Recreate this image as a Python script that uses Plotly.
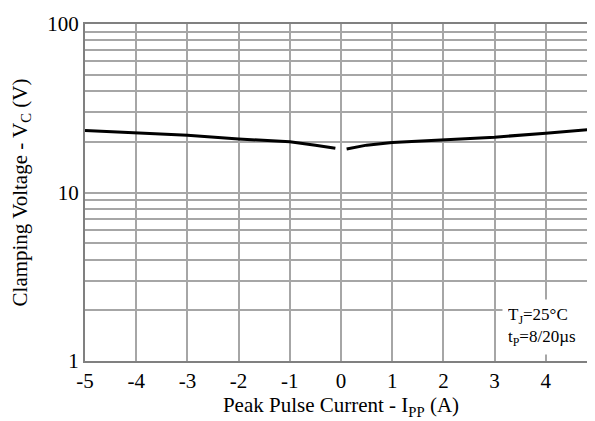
import plotly.graph_objects as go

# Data
neg_current = [-5, -4, -3, -2, -1, -0.5, -0.11]
neg_voltage = [23.3, 22.6, 21.9, 20.8, 20.0, 19.1, 18.3]
pos_current = [0.11, 0.5, 1, 2, 3, 4, 5]
pos_voltage = [18.1, 19.1, 19.8, 20.6, 21.3, 22.5, 23.8]

x_ticks = [-5, -4, -3, -2, -1, 0, 1, 2, 3, 4, 5]
x_ticktext = ["-5", "-4", "-3", "-2", "-1", "0", "1", "2", "3", "4", "5"]
y_ticks = [1, 2, 3, 4, 5, 6, 7, 8, 9, 10, 20, 30, 40, 50, 60, 70, 80, 90, 100]
y_ticktext = ["1", "", "", "", "", "", "", "", "", "10", "", "", "", "", "", "", "", "", "100"]

FONT = "'Liberation Serif', 'Times New Roman', Times, serif"

fig = go.Figure()
for xs, ys in [(neg_current, neg_voltage), (pos_current, pos_voltage)]:
    fig.add_trace(go.Scatter(x=xs, y=ys, mode="lines",
                             line=dict(color="black", width=3),
                             showlegend=False, hoverinfo="skip"))

fig.add_annotation(x=0.99, y=0.018, xref="paper", yref="paper",
                   xanchor="right", yanchor="bottom", align="left",
                   width=78, height=44,
                   text="T<sub>J</sub>=25°C<br>t<sub>P</sub>=8/20µs",
                   showarrow=False, bgcolor="white", borderpad=5,
                   font=dict(family=FONT, size=17, color="black"))

fig.update_layout(
    width=595, height=421,
    margin=dict(l=77, r=6, t=16, b=68),
    paper_bgcolor="white", plot_bgcolor="white",
    font=dict(family=FONT, size=21, color="black"),
    xaxis=dict(range=[-5, 5], tickvals=x_ticks, ticktext=x_ticktext,
               showgrid=True, gridcolor="#a6a6a6", gridwidth=1.5,
               showline=True, linecolor="#808080", linewidth=2, mirror=True,
               zeroline=False, ticks="", ticklen=0, ticklabeloverflow="allow",
               automargin=False,
               tickfont=dict(family=FONT, size=21),
               title=dict(text="Peak Pulse Current - I<sub>PP</sub> (A)", standoff=5,
                          font=dict(family=FONT, size=21))),
    yaxis=dict(type="log", range=[0, 2], tickvals=y_ticks, ticktext=y_ticktext,
               showgrid=True, gridcolor="#a6a6a6", gridwidth=1.5,
               showline=True, linecolor="#808080", linewidth=2, mirror=True,
               zeroline=False, ticks="", ticklen=0, automargin=False,
               tickfont=dict(family=FONT, size=21),
               title=dict(text="Clamping Voltage - V<sub>C</sub> (V)", standoff=14,
                          font=dict(family=FONT, size=21))),
)

fig.write_html("out.html")
